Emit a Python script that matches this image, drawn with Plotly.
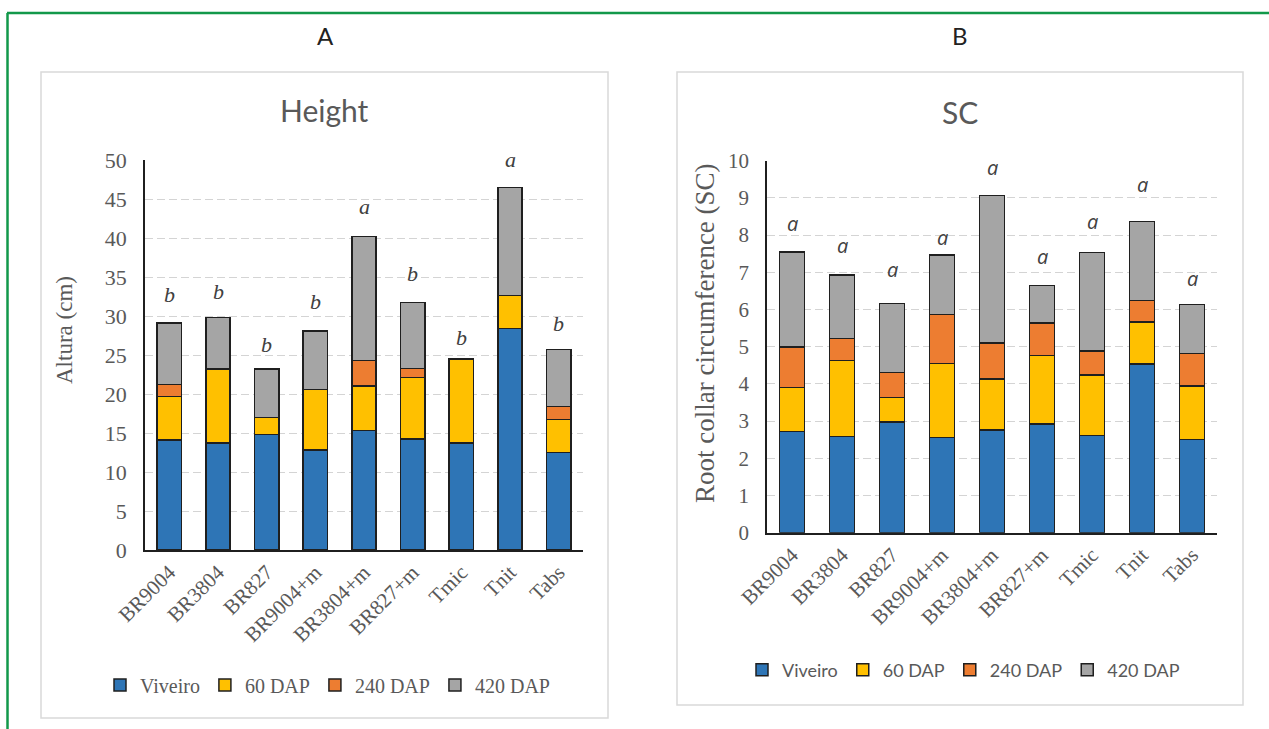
import plotly.graph_objects as go

W, H = 1269, 729

categories = ["BR9004", "BR3804", "BR827", "BR9004+m", "BR3804+m", "BR827+m", "Tmic", "Tnit", "Tabs"]
series_names = ["Viveiro", "60 DAP", "240 DAP", "420 DAP"]
colors = ["#2E75B6", "#FFC000", "#ED7D31", "#A5A5A5"]

# Panel A (Height, cm) - segment heights
height_viveiro = [14.1, 13.7, 14.8, 12.8, 15.3, 14.2, 13.7, 28.4, 12.5]
height_60 = [5.6, 9.5, 2.2, 7.8, 5.7, 7.9, 10.8, 4.2, 4.2]
height_240 = [1.5, 0.0, 0.0, 0.0, 3.3, 1.2, 0.0, 0.0, 1.7]
height_420 = [7.9, 6.6, 6.2, 7.5, 15.9, 8.4, 0.0, 13.9, 7.3]
height_letters = ["b", "b", "b", "b", "a", "b", "b", "a", "b"]
height_letter_pos = [32.8, 33.2, 26.4, 31.9, 44.0, 35.5, 27.3, 50.1, 29.0]

# Panel B (SC) - segment heights
sc_viveiro = [2.72, 2.59, 2.97, 2.56, 2.76, 2.92, 2.61, 4.54, 2.51]
sc_60 = [1.18, 2.04, 0.67, 1.99, 1.37, 1.84, 1.63, 1.13, 1.43]
sc_240 = [1.09, 0.59, 0.67, 1.31, 0.97, 0.88, 0.65, 0.57, 0.88]
sc_420 = [2.55, 1.71, 1.85, 1.60, 3.96, 1.00, 2.64, 2.12, 1.32]
sc_letters = ["a"] * 9
sc_letter_pos = [8.32, 7.73, 7.08, 7.94, 9.82, 7.42, 8.36, 9.35, 6.82]

def px(x):
    return x / W

def py(y):
    return 1 - y / H

SERIF = "Liberation Serif"
SANS = "Lato"
GRAY = "#595959"

# plot-area geometry (pixels)
A_x0, A_x1, A_y0, A_y1 = 145, 583, 550, 160
B_x0, B_x1, B_y0, B_y1 = 767, 1217, 532.7, 160.7
A_max, B_max = 50, 10

fig = go.Figure()

for name, vals, col in zip(series_names, [height_viveiro, height_60, height_240, height_420], colors):
    fig.add_trace(go.Bar(
        x=categories, y=vals, name=name, marker_color=col,
        marker_line_color="#1f1f1f", marker_line_width=1.5,
        xaxis="x", yaxis="y", legend="legend",
    ))

for name, vals, col in zip(series_names, [sc_viveiro, sc_60, sc_240, sc_420], colors):
    fig.add_trace(go.Bar(
        x=categories, y=vals, name=name, marker_color=col,
        marker_line_color="#1f1f1f", marker_line_width=1.5,
        xaxis="x2", yaxis="y2", legend="legend2",
    ))

annotations = []
a_scale = (A_y0 - A_y1) / A_max
b_scale = (B_y0 - B_y1) / B_max
tot_a = [sum(v) for v in zip(height_viveiro, height_60, height_240, height_420)]
tot_b = [sum(v) for v in zip(sc_viveiro, sc_60, sc_240, sc_420)]
for c, t, v, tot in zip(categories, height_letters, height_letter_pos, tot_a):
    annotations.append(dict(x=c, y=tot, xref="x", yref="y", text=t, showarrow=False,
                            yshift=(v - tot) * a_scale,
                            font=dict(family=SERIF, size=22, color="#404040", style="italic"),
                            yanchor="middle"))
for c, t, v, tot in zip(categories, sc_letters, sc_letter_pos, tot_b):
    annotations.append(dict(x=c, y=tot, xref="x2", yref="y2", text=t, showarrow=False,
                            yshift=(v - tot) * b_scale,
                            font=dict(family="Open Sans", size=20, color="#404040", style="italic"),
                            yanchor="middle"))

annotations += [
    dict(x=px(325), y=py(35), xref="paper", yref="paper", text="A", showarrow=False,
         font=dict(family=SANS, size=24, color="#222222"), xanchor="center", yanchor="middle"),
    dict(x=px(960), y=py(35), xref="paper", yref="paper", text="B", showarrow=False,
         font=dict(family=SANS, size=24, color="#222222"), xanchor="center", yanchor="middle"),
    dict(x=px(324), y=py(110), xref="paper", yref="paper", text="Height", showarrow=False,
         font=dict(family=SANS, size=30, color=GRAY), xanchor="center", yanchor="middle"),
    dict(x=px(960), y=py(112), xref="paper", yref="paper", text="SC", showarrow=False,
         font=dict(family=SANS, size=30, color=GRAY), xanchor="center", yanchor="middle"),
    dict(x=px(65), y=py(330), xref="paper", yref="paper", text="Altura (cm)", showarrow=False,
         textangle=-90, font=dict(family=SERIF, size=23, color=GRAY),
         xanchor="center", yanchor="middle"),
    dict(x=px(705), y=py(333), xref="paper", yref="paper", text="Root collar circumference (SC)",
         showarrow=False, textangle=-90, font=dict(family=SERIF, size=27, color=GRAY),
         xanchor="center", yanchor="middle"),
]

shapes = [
    dict(type="rect", xref="paper", yref="paper", x0=px(41), x1=px(608), y0=py(718), y1=py(72),
         line=dict(color="#d9d9d9", width=1.5), layer="below"),
    dict(type="rect", xref="paper", yref="paper", x0=px(677), x1=px(1243), y0=py(705), y1=py(72),
         line=dict(color="#d9d9d9", width=1.5), layer="below"),
    dict(type="line", xref="paper", yref="paper", x0=px(7), x1=1, y0=py(13), y1=py(13),
         line=dict(color="#12984a", width=2.5)),
    dict(type="line", xref="paper", yref="paper", x0=px(7.5), x1=px(7.5), y0=py(13), y1=0,
         line=dict(color="#12984a", width=2.5)),
]

xcommon = dict(type="category", showline=True, linecolor="#1f1f1f", linewidth=1.5,
               tickangle=-45, ticks="", automargin=False, showgrid=False,
               tickfont=dict(family=SERIF, size=21, color=GRAY))
ycommon = dict(showline=True, linecolor="#1f1f1f", linewidth=1.5, ticks="",
               showgrid=True, gridcolor="#d4d4d4", griddash="8px,4px", gridwidth=1.4,
               zeroline=False, automargin=False, ticklabelstandoff=12)

fig.update_layout(
    width=W, height=H,
    margin=dict(l=0, r=0, t=0, b=0),
    paper_bgcolor="white", plot_bgcolor="white",
    barmode="stack", bargap=0.5,
    xaxis=dict(domain=[px(A_x0), px(A_x1)], anchor="y", **xcommon),
    yaxis=dict(domain=[py(A_y0), py(A_y1)], anchor="x", range=[0, A_max], dtick=5,
               tickfont=dict(family=SERIF, size=22, color=GRAY), **ycommon),
    xaxis2=dict(domain=[px(B_x0), px(B_x1)], anchor="y2", **xcommon),
    yaxis2=dict(domain=[py(B_y0), py(B_y1)], anchor="x2", range=[0, B_max], dtick=1,
                tickfont=dict(family=SERIF, size=21, color=GRAY), **ycommon),
    legend=dict(orientation="h", x=px(100), y=py(685), xanchor="left", yanchor="middle",
                font=dict(family=SERIF, size=20, color=GRAY), bgcolor="rgba(0,0,0,0)",
                traceorder="normal"),
    legend2=dict(orientation="h", x=px(742), y=py(670), xanchor="left", yanchor="middle",
                 font=dict(family=SANS, size=18, color=GRAY), bgcolor="rgba(0,0,0,0)",
                 traceorder="normal"),
    annotations=annotations,
    shapes=shapes,
    showlegend=True,
)

fig.write_html("out.html")
